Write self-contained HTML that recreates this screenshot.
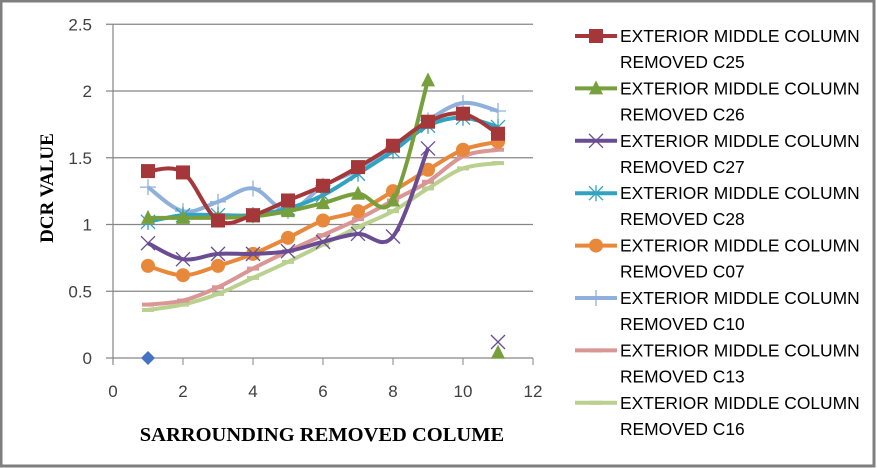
<!DOCTYPE html>
<html><head><meta charset="utf-8"><style>
html,body{margin:0;padding:0;background:#fff}
svg{display:block}
text{font-family:"Liberation Sans",sans-serif}
</style></head><body>
<svg id="chart" width="877" height="468">
<rect x="1" y="1" width="873" height="465" fill="#fff" stroke="#7f7f7f" stroke-width="3"/>
<g id="grid"></g><g id="series"></g><g id="legend"></g>
<text x="0" y="0" transform="translate(53,188) rotate(-90)" text-anchor="middle" font-weight="bold" font-size="19" fill="#000" style="font-family:'Liberation Serif',serif">DCR VALUE</text>
<text x="322" y="441" text-anchor="middle" font-weight="bold" font-size="20.5" fill="#000" style="font-family:'Liberation Serif',serif">SARROUNDING REMOVED COLUME</text>
</svg>
<script>
const xTicks=[0,2,4,6,8,10,12];
const yTicks=[0,0.5,1,1.5,2,2.5];
const yTickLabels=["0","0.5","1","1.5","2","2.5"];
const xs=[1,2,3,4,5,6,7,8,9,10,11];
const seriesNames=["C25","C26","C27","C28","C07","C10","C13","C16"];
const c25=[1.4,1.39,1.03,1.07,1.18,1.29,1.43,1.59,1.77,1.83,1.68];
const c26=[1.05,1.05,1.05,1.06,1.1,1.16,1.23,1.18,2.08,null,0.04];
const c27=[0.86,0.74,0.78,0.78,0.8,0.87,0.93,0.91,1.57,null,0.12];
const c28=[1.02,1.07,1.07,1.07,1.12,1.22,1.38,1.55,1.74,1.8,1.73];
const c07=[0.69,0.62,0.69,0.78,0.9,1.03,1.1,1.25,1.41,1.56,1.62];
const c10=[1.28,1.1,1.17,1.27,1.1,1.29,1.41,1.58,1.78,1.91,1.85];
const c13=[0.4,0.43,0.53,0.67,0.8,0.92,1.04,1.18,1.32,1.51,1.56];
const c16=[0.36,0.4,0.48,0.6,0.72,0.85,0.98,1.1,1.27,1.42,1.46];
const extraX=[1]; const extraY=[0];
const NS="http://www.w3.org/2000/svg";
const X=v=>113+v*35, Y=v=>358-v*133.5;
function mk(t,a,p){const e=document.createElementNS(NS,t);for(const k in a)e.setAttribute(k,a[k]);p.appendChild(e);return e;}
const grid=document.getElementById('grid');
yTicks.forEach((t,i)=>{
 const l=mk('line',{x1:106,x2:533,y1:Y(t),y2:Y(t),stroke:'#868686','stroke-width':1.2},grid);
 
 
 const tx=mk('text',{x:92,y:Y(t)+6,'text-anchor':'end','font-size':17,fill:'#404040'},grid);tx.textContent=yTickLabels[i];
 
 
});
mk('line',{x1:113,x2:113,y1:24,y2:365,stroke:'#868686','stroke-width':1.2},grid);
xTicks.forEach(t=>{
 mk('line',{x1:X(t),x2:X(t),y1:358,y2:365,stroke:'#868686'},grid);
 const tx=mk('text',{x:X(t),y:397,'text-anchor':'middle','font-size':17,fill:'#404040'},grid);tx.textContent=String(t);
 
 
});
const styles=[
 {d:c25,c:'#a4373a',m:'sq'},{d:c26,c:'#77a03c',m:'tri'},{d:c27,c:'#6a4c93',m:'x'},{d:c28,c:'#31a2c0',m:'star'},
 {d:c07,c:'#e8883a',m:'circ'},{d:c10,c:'#8fb0dd',m:'plus'},{d:c13,c:'#d99694',m:'dash'},{d:c16,c:'#b9d08e',m:'dash'}];
function smooth(pts){
 if(pts.length<2)return '';
 let d='M'+pts[0][0]+','+pts[0][1];
 for(let i=0;i<pts.length-1;i++){
  const p0=pts[i-1]||pts[i],p1=pts[i],p2=pts[i+1],p3=pts[i+2]||p2,t=0.17;
  d+=` C${p1[0]+(p2[0]-p0[0])*t},${p1[1]+(p2[1]-p0[1])*t} ${p2[0]-(p3[0]-p1[0])*t},${p2[1]-(p3[1]-p1[1])*t} ${p2[0]},${p2[1]}`;
 }
 return d;
}
function marker(g,m,x,y,c){
 if(m==='sq')mk('rect',{x:x-7,y:y-7,width:14,height:14,fill:c},g);
 else if(m==='tri')mk('polygon',{points:`${x},${y-8} ${x+7},${y+6} ${x-7},${y+6}`,fill:c},g);
 else if(m==='circ')mk('circle',{cx:x,cy:y,r:7,fill:c},g);
 else if(m==='x'){mk('path',{d:`M${x-7},${y-7}L${x+7},${y+7}M${x-7},${y+7}L${x+7},${y-7}`,stroke:c,'stroke-width':1.3},g);}
 else if(m==='star'){mk('path',{d:`M${x-7},${y-7}L${x+7},${y+7}M${x-7},${y+7}L${x+7},${y-7}M${x},${y-8}L${x},${y+8}`,stroke:c,'stroke-width':1.3},g);}
 else if(m==='plus'){mk('path',{d:`M${x-8},${y}L${x+8},${y}M${x},${y-8}L${x},${y+8}`,stroke:c,'stroke-width':1.3},g);}
 else if(m==='dash')mk('rect',{x:x-6,y:y-2,width:12,height:4,fill:c},g);
}
const sg=document.getElementById('series');
for(let s=styles.length-1;s>=0;s--){
 const st=styles[s];const g=mk('g',{},sg);
 
 
 let seg=[];const segs=[];
 st.d.forEach((v,i)=>{if(v==null){if(seg.length)segs.push(seg);seg=[];}else seg.push([X(xs[i]),Y(v)]);});
 if(seg.length)segs.push(seg);
 segs.forEach(sp=>{if(sp.length>1)mk('path',{d:smooth(sp),fill:'none',stroke:st.c,'stroke-width':4,'stroke-linejoin':'round'},g);});
 st.d.forEach((v,i)=>{if(v!=null)marker(g,st.m,X(xs[i]),Y(v),st.c);});
}
extraX.forEach((v,i)=>{const p=mk('polygon',{points:`${X(v)},${Y(extraY[i])-7} ${X(v)+7},${Y(extraY[i])} ${X(v)},${Y(extraY[i])+7} ${X(v)-7},${Y(extraY[i])}`,fill:'#4472c4'},sg);
 
 });
const lg=document.getElementById('legend');
styles.forEach((st,i)=>{
 const y=36+i*52.4;const g=mk('g',{},lg);
 
 
 mk('line',{x1:575,x2:617,y1:y,y2:y,stroke:st.c,'stroke-width':4},g);
 marker(g,st.m,596,y,st.c);
 const t1=mk('text',{x:620,y:y+6,'font-size':17.4,fill:'#000'},g);t1.textContent='EXTERIOR MIDDLE COLUMN';
 const t2=mk('text',{x:620,y:y+32,'font-size':17.4,fill:'#000'},g);t2.textContent='REMOVED '+seriesNames[i];
});
</script>
</body></html>
